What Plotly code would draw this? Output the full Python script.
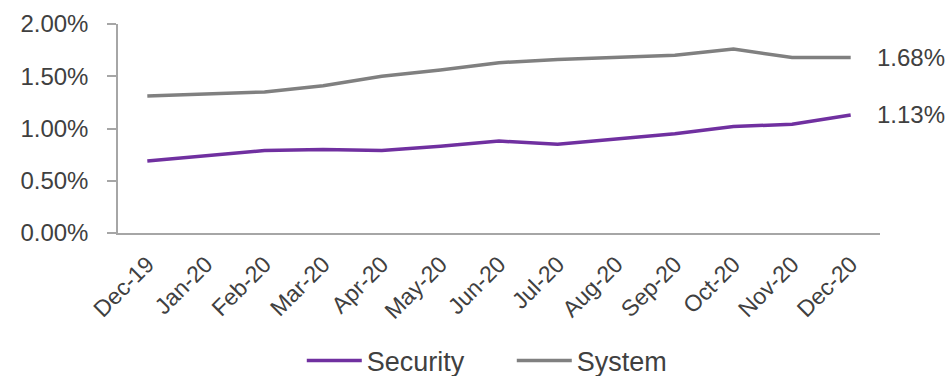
import plotly.graph_objects as go

months = ["Dec-19", "Jan-20", "Feb-20", "Mar-20", "Apr-20", "May-20", "Jun-20",
          "Jul-20", "Aug-20", "Sep-20", "Oct-20", "Nov-20", "Dec-20"]
security = [0.0069, 0.0074, 0.0079, 0.0080, 0.0079, 0.0083, 0.0088,
            0.0085, 0.0090, 0.0095, 0.0102, 0.0104, 0.0113]
system = [0.0131, 0.0133, 0.0135, 0.0141, 0.0150, 0.0156, 0.0163,
          0.0166, 0.0168, 0.0170, 0.0176, 0.0168, 0.0168]
y_ticks = [0, 0.005, 0.01, 0.015, 0.02]

PURPLE = "#7030A0"
GRAY = "#808080"
TXT = "#404040"
AX = "#A6A6A6"
FONT = "Liberation Sans, Arial, sans-serif"

fig = go.Figure()
fig.add_trace(go.Scatter(x=months, y=security, name="Security", mode="lines",
                         line=dict(color=PURPLE, width=3.5)))
fig.add_trace(go.Scatter(x=months, y=system, name="System", mode="lines",
                         line=dict(color=GRAY, width=3.5)))

for series in (system, security):
    fig.add_annotation(x=months[-1], y=series[-1], text=f"{series[-1]*100:.2f}%",
                       showarrow=False, xanchor="left", yanchor="middle", xshift=24,
                       font=dict(family=FONT, size=24, color=TXT))

fig.update_layout(
    width=952, height=376,
    margin=dict(l=118, r=72, t=24, b=143, autoexpand=False),
    paper_bgcolor="white", plot_bgcolor="white",
    font=dict(family=FONT, color=TXT),
    showlegend=True,
    legend=dict(orientation="h", xref="container", x=0.317, xanchor="left",
                yref="container", y=0.04, yanchor="middle",
                font=dict(family=FONT, size=27, color=TXT), entrywidth=140,
                itemwidth=55),
)
fig.update_xaxes(type="category", range=[-0.5, 12.5], showline=True, linecolor=AX,
                 linewidth=1.5, showgrid=False, ticks="", tickangle=-45, automargin=False,
                 tickfont=dict(family=FONT, size=23, color=TXT), ticklabelstandoff=7)
fig.update_yaxes(range=[0, 0.02], tickvals=y_ticks, tickformat=".2%", showline=True,
                 linecolor=AX, linewidth=1.5, showgrid=False, ticks="outside",
                 ticklen=9, tickcolor=AX, tickwidth=1.5, zeroline=False, automargin=False,
                 tickfont=dict(family=FONT, size=24, color=TXT), ticklabelstandoff=14)

fig.write_html("out.html")
